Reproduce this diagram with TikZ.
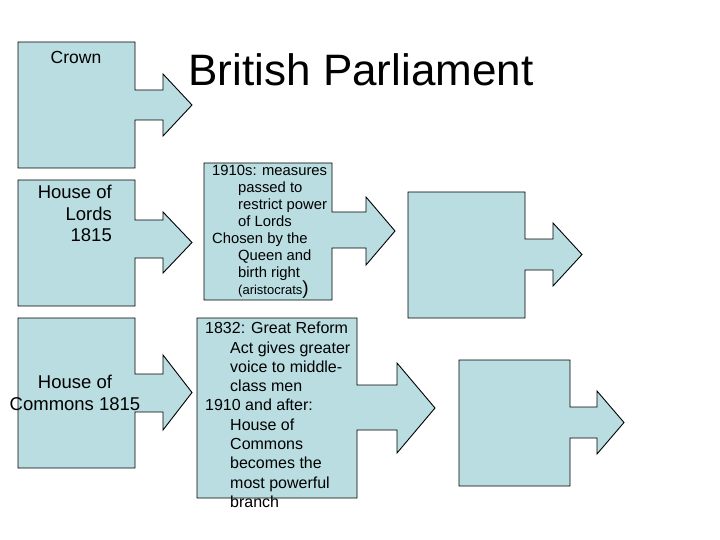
\documentclass[tikz,border=0pt]{standalone}
\usepackage{fontspec}
\setmainfont{Liberation Sans}
\definecolor{boxfill}{HTML}{B9DDE1}
\tikzset{callout/.style={draw=black,fill=boxfill,line width=0.9pt,line join=miter},
  lbl/.style={inner sep=0pt,text=black},
  small/.style={lbl,font=\fontsize{14.8}{17}\selectfont,align=left,anchor=north west},
  mid/.style={lbl,font=\fontsize{16}{19.3}\selectfont,align=left,anchor=north west}}
\newcommand{\callbox}[9]{%
  \path[callout] (#1,#2) -- (#3,#2) -- (#3,#5) -- (#7,#5) -- (#7,#8) -- (\tipx,{(#8+#9)/2}) -- (#7,#9) -- (#7,#6) -- (#3,#6) -- (#3,#4) -- (#1,#4) -- cycle;}
\begin{document}
\begin{tikzpicture}[x=1pt,y=-1pt]
\useasboundingbox (0,0) rectangle (720,540);
\def\tipx{192}
\callbox{18}{42}{135}{168}{90}{120}{163}{74}{136}
\callbox{18}{180}{135}{306}{220}{258}{163}{212}{273}
\callbox{18}{318}{135}{468}{374}{412}{163}{355}{430}
\def\tipx{395}
\callbox{204}{163}{332}{300}{212}{248}{366}{197}{265}
\def\tipx{435}
\callbox{197}{318}{357}{498}{385}{430}{397}{363}{453}
\def\tipx{582}
\callbox{408}{192}{525}{318}{239}{270}{553}{223}{286}
\def\tipx{624}
\callbox{459}{360}{570}{486}{407}{438}{597}{391}{454}
\node[lbl,font=\fontsize{44}{52}\selectfont] (title) at (361,70) {British Parliament};
\node[lbl,font=\fontsize{17.5}{20}\selectfont] (crown) at (76,57) {Crown};
\node[lbl,font=\fontsize{18.5}{21.5}\selectfont,align=right,anchor=north east] (lords) at (112,185) {House of\\Lords\\1815};
\node[lbl,font=\fontsize{18.5}{21.5}\selectfont,align=center] (commons) at (75,393) {House of\\Commons 1815};
\node[small] (lordsnote) at (212,165) {1910s: measures\\
\hspace*{26pt}passed to\\
\hspace*{26pt}restrict power\\
\hspace*{26pt}of Lords\\
Chosen by the\\
\hspace*{26pt}Queen and\\
\hspace*{26pt}birth right\\
\hspace*{26pt}{\fontsize{13}{17}\selectfont(aristocrats}{\fontsize{19}{17}\selectfont)}};
\node[mid] (commonsnote) at (205,322) {1832: Great Reform\\
\hspace*{25pt}Act gives greater\\
\hspace*{25pt}voice to middle-\\
\hspace*{25pt}class men\\
1910 and after:\\
\hspace*{25pt}House of\\
\hspace*{25pt}Commons\\
\hspace*{25pt}becomes the\\
\hspace*{25pt}most powerful\\
\hspace*{25pt}branch};
\end{tikzpicture}
\end{document}
